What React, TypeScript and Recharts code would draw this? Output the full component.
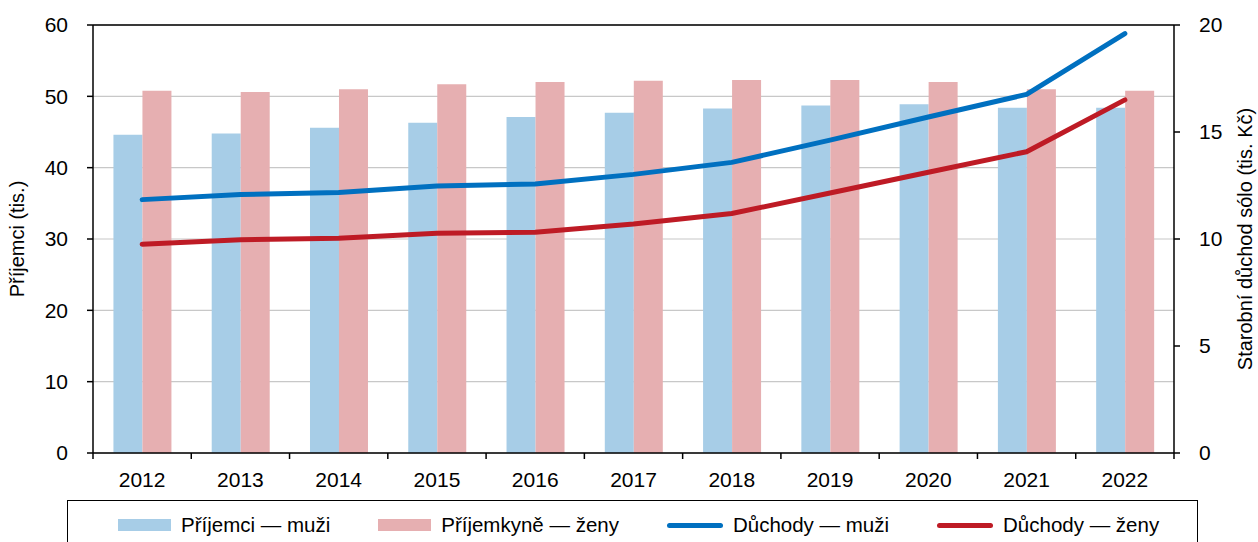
import { Bar, CartesianGrid, ComposedChart, Line, ReferenceLine, XAxis, YAxis } from "recharts";

const years = ["2012", "2013", "2014", "2015", "2016", "2017", "2018", "2019", "2020", "2021", "2022"];
const prijemciMuzi = [44.6, 44.8, 45.6, 46.3, 47.1, 47.7, 48.3, 48.7, 48.9, 48.4, 48.4];
const prijemkyneZeny = [50.8, 50.6, 51.0, 51.7, 52.0, 52.2, 52.3, 52.3, 52.0, 51.0, 50.8];
const duchodyMuzi = [11.84, 12.08, 12.17, 12.48, 12.57, 13.02, 13.58, 14.62, 15.7, 16.76, 19.6];
const duchodyZeny = [9.76, 9.96, 10.04, 10.27, 10.32, 10.7, 11.19, 12.15, 13.12, 14.08, 16.5];

const leftTicks = [0, 10, 20, 30, 40, 50, 60];
const rightTicks = [0, 5, 10, 15, 20];

const data = years.map((year, i) => ({
  year,
  prijemciMuzi: prijemciMuzi[i],
  prijemkyneZeny: prijemkyneZeny[i],
  duchodyMuzi: duchodyMuzi[i],
  duchodyZeny: duchodyZeny[i],
}));

const W = 1258;
const H = 542;
const LEFT_W = 93;
const RIGHT_W = 84;
const PLOT_W = W - LEFT_W - RIGHT_W;
const FONT = "'Liberation Sans', Arial, sans-serif";

const colors = {
  barBlue: "#a7cde7",
  barPink: "#e6afb1",
  lineBlue: "#0070c0",
  lineRed: "#be1b25",
};

const legendItems = [
  { label: "Příjemci — muži", color: colors.barBlue, kind: "bar" },
  { label: "Příjemkyně — ženy", color: colors.barPink, kind: "bar" },
  { label: "Důchody — muži", color: colors.lineBlue, kind: "line" },
  { label: "Důchody — ženy", color: colors.lineRed, kind: "line" },
];

function YearTick(props: any) {
  const { x, y, payload, index } = props;
  const step = PLOT_W / years.length;
  return (
    <g>
      <line x1={x - step / 2} x2={x - step / 2} y1={y} y2={y + 6} stroke="#000" strokeWidth={1.5} />
      {index === years.length - 1 && (
        <line x1={x + step / 2} x2={x + step / 2} y1={y} y2={y + 6} stroke="#000" strokeWidth={1.5} />
      )}
      <text x={x} y={y + 34} textAnchor="middle" fill="#000" fontSize={21} fontFamily={FONT}>
        {payload.value}
      </text>
    </g>
  );
}

function AxisTitle(props: any) {
  const { viewBox, value, cx } = props;
  const cy = viewBox.y + viewBox.height / 2;
  return (
    <text
      x={cx}
      y={cy}
      transform={`rotate(-90 ${cx} ${cy})`}
      textAnchor="middle"
      dominantBaseline="central"
      fill="#000"
      fontSize={20}
      fontFamily={FONT}
    >
      {value}
    </text>
  );
}

function ChartLegend() {
  return (
    <div
      style={{
        position: "absolute",
        left: 67,
        top: 500,
        width: 1131,
        height: 60,
        boxSizing: "border-box",
        border: "1px solid #000",
        display: "flex",
        alignItems: "flex-start",
        paddingLeft: 50,
        paddingTop: 10,
        gap: 48,
        fontFamily: FONT,
        fontSize: 20.5,
        color: "#000",
      }}
    >
      {legendItems.map((item) => (
        <div key={item.label} style={{ display: "flex", alignItems: "center", height: 28 }}>
          {item.kind === "bar" ? (
            <span style={{ width: 53, height: 12, background: item.color, marginRight: 10 }} />
          ) : (
            <span style={{ width: 56, height: 5, borderRadius: 3, background: item.color, marginRight: 10 }} />
          )}
          <span>{item.label}</span>
        </div>
      ))}
    </div>
  );
}

export default function App() {
  return (
    <div style={{ position: "absolute", left: 0, top: 0, width: W, height: H, background: "#fff", overflow: "hidden" }}>
      <ComposedChart
        width={W}
        height={H}
        data={data}
        margin={{ top: 25, right: 0, bottom: 49, left: 0 }}
        barCategoryGap="20.8%"
        barGap={0}
      >
        <CartesianGrid yAxisId="left" vertical={false} stroke="#c8c8c8" strokeWidth={1.2} />
        <XAxis
          dataKey="year"
          height={40}
          tickLine={false}
          tickSize={0}
          tickMargin={0}
          axisLine={{ stroke: "#000", strokeWidth: 1.5 }}
          tick={<YearTick />}
          interval={0}
        />
        <YAxis
          yAxisId="left"
          width={LEFT_W}
          domain={[0, 60]}
          ticks={leftTicks}
          interval={0}
          tickSize={6}
          tickMargin={19}
          axisLine={{ stroke: "#000", strokeWidth: 1.5 }}
          tickLine={{ stroke: "#000", strokeWidth: 1.5 }}
          tick={{ fill: "#000", fontSize: 21, fontFamily: FONT }}
          label={<AxisTitle value="Příjemci (tis.)" cx={17} />}
        />
        <YAxis
          yAxisId="right"
          orientation="right"
          width={RIGHT_W}
          domain={[0, 20]}
          ticks={rightTicks}
          interval={0}
          tickSize={6}
          tickMargin={19}
          axisLine={{ stroke: "#000", strokeWidth: 1.5 }}
          tickLine={{ stroke: "#000", strokeWidth: 1.5 }}
          tick={{ fill: "#000", fontSize: 21, fontFamily: FONT }}
          label={<AxisTitle value="Starobní důchod sólo (tis. Kč)" cx={1245} />}
        />
        <ReferenceLine yAxisId="left" y={60} stroke="#000" strokeWidth={1.5} />
        <Bar yAxisId="left" dataKey="prijemciMuzi" fill={colors.barBlue} isAnimationActive={false} />
        <Bar yAxisId="left" dataKey="prijemkyneZeny" fill={colors.barPink} isAnimationActive={false} />
        <Line
          yAxisId="right"
          type="linear"
          dataKey="duchodyMuzi"
          stroke={colors.lineBlue}
          strokeWidth={5}
          strokeLinecap="round"
          strokeLinejoin="round"
          dot={false}
          activeDot={false}
          isAnimationActive={false}
        />
        <Line
          yAxisId="right"
          type="linear"
          dataKey="duchodyZeny"
          stroke={colors.lineRed}
          strokeWidth={5}
          strokeLinecap="round"
          strokeLinejoin="round"
          dot={false}
          activeDot={false}
          isAnimationActive={false}
        />
      </ComposedChart>
      <ChartLegend />
    </div>
  );
}
